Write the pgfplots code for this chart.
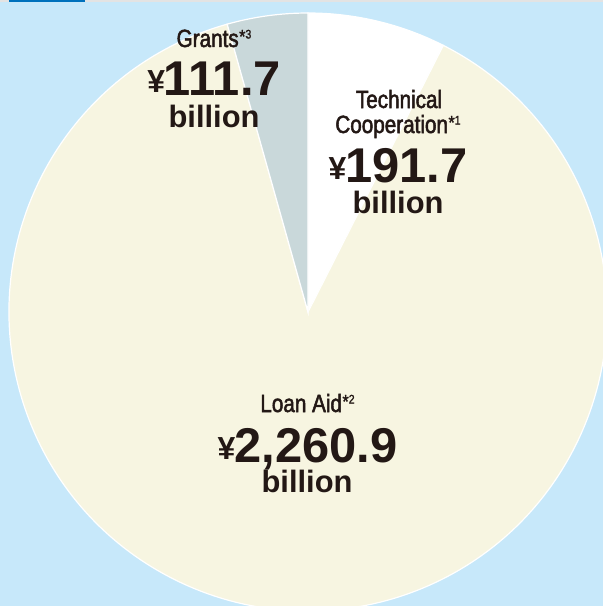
\documentclass[border=0pt]{standalone}
\usepackage{pgfplots}
\pgfplotsset{compat=1.18}
\usepackage{pgfplotstable}
\usepackage{fontspec}
\setmainfont{Liberation Sans}
\newfontfamily\cond[FakeStretch=0.83,FakeBold=2]{Liberation Sans}
\newfontfamily\condsup[FakeStretch=0.85,FakeBold=1.5]{Liberation Sans}
\definecolor{bgblue}{HTML}{C7E8FA}
\definecolor{barblue}{HTML}{0071BC}
\definecolor{stripgray}{HTML}{E3E3E3}
\definecolor{beige}{HTML}{F7F5E1}
\definecolor{grantgray}{HTML}{C9D8DA}
\definecolor{ink}{HTML}{231815}
\pgfplotstableread{
label value
Technical 191.7
Loan 2260.9
Grants 111.7
}\piedata
\newcommand{\lab}[2]{{\cond\fontsize{25}{27}\selectfont #1\kern0.5bp\raisebox{4bp}{\condsup\fontsize{19}{19}\selectfont *}\raisebox{8.5bp}{\condsup\fontsize{12.5}{12.5}\selectfont #2}}}
\newcommand{\num}[1]{{\bfseries\fontsize{32}{32}\selectfont\raisebox{3bp}{¥}\kern-1bp\fontsize{49}{49}\selectfont #1}}
\newcommand{\bil}{{\bfseries\fontsize{31}{31}\selectfont billion}}
\begin{document}
\begin{tikzpicture}
\pgfplotstablegetelem{0}{value}\of\piedata \let\vT\pgfplotsretval
\pgfplotstablegetelem{1}{value}\of\piedata \let\vL\pgfplotsretval
\pgfplotstablegetelem{2}{value}\of\piedata \let\vG\pgfplotsretval
\pgfmathsetmacro\tot{\vT+\vL+\vG}
\pgfmathsetmacro\fT{\vT/\tot}
\pgfmathsetmacro\fL{\vL/\tot}
\pgfmathsetmacro\aA{90-360*\fT}
\pgfmathsetmacro\aB{\aA-360*\fL}
\begin{axis}[
  scale only axis, width=603bp, height=606bp,
  xmin=0, xmax=603, ymin=0, ymax=606, y dir=reverse,
  hide axis, clip=true,
  axis background/.style={fill=bgblue},
]
\fill[stripgray] (axis cs:0,0) rectangle (axis cs:603,2.5);
\fill[barblue] (axis cs:9,0) rectangle (axis cs:85,2.5);
\fill[white, draw=white, line width=1.2bp] (axis cs:308,312) -- ++(90:299bp) arc[start angle=90, end angle=\aA, radius=299bp] -- cycle;
\fill[beige, draw=white, line width=1.2bp] (axis cs:308,312) -- ++(\aA:299bp) arc[start angle=\aA, end angle=\aB, radius=299bp] -- cycle;
\fill[grantgray, draw=white, line width=1.2bp] (axis cs:308,312) -- ++(\aB:299bp) arc[start angle=\aB, end angle=-270, radius=299bp] -- cycle;
\begin{scope}[every node/.style={text=ink, inner sep=0pt, anchor=base}]
\node at (axis cs:214,47) {\lab{Grants}{3}};
\node at (axis cs:214,95) {\num{111.7}};
\node at (axis cs:214,127) {\bil};
\node at (axis cs:399,108) {\cond\fontsize{25}{27}\selectfont Technical};
\node at (axis cs:398,133) {\lab{Cooperation}{1}};
\node at (axis cs:398,182) {\num{191.7}};
\node at (axis cs:398,213) {\bil};
\node at (axis cs:307.5,412) {\lab{Loan Aid}{2}};
\node at (axis cs:307.5,462) {\num{2,260.9}};
\node at (axis cs:307,492) {\bil};
\end{scope}
\end{axis}
\pgfresetboundingbox
\path[use as bounding box] (current axis.south west) rectangle (current axis.north east);
\end{tikzpicture}
\end{document}
